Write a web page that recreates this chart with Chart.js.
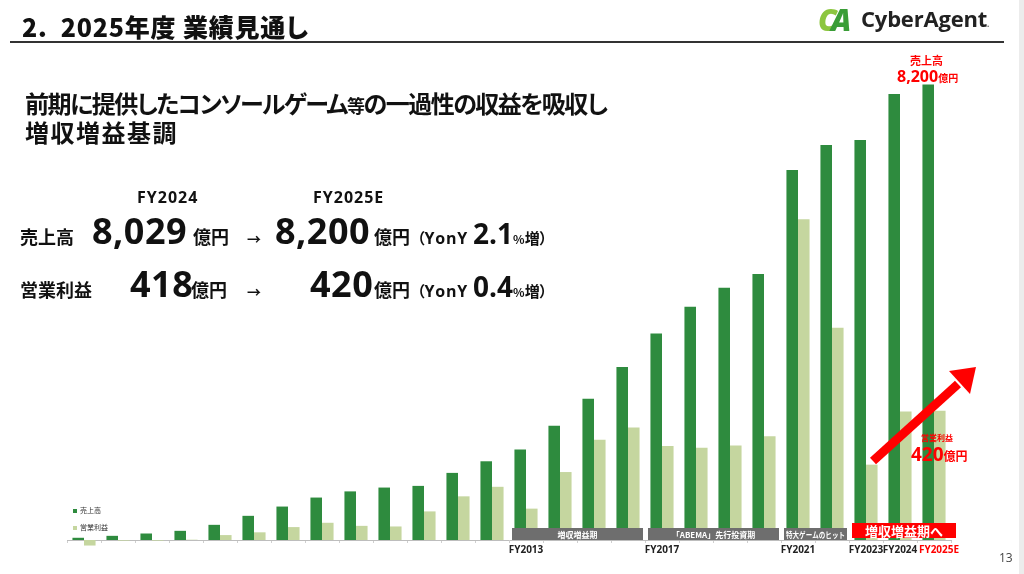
<!DOCTYPE html>
<html lang="ja">
<head>
<meta charset="utf-8">
<script src="https://cdn.jsdelivr.net/npm/chart.js@4.4.1/dist/chart.umd.min.js"></script>
<style>
html, body { margin: 0; padding: 0; background: #fff; }
#slide { position: relative; width: 1024px; height: 574px; overflow: hidden; background: #fff;
  font-family: "Noto Sans CJK JP", "Noto Sans", sans-serif; color: #111; }
#chart { position: absolute; left: 0; top: 0; }
.abs { position: absolute; white-space: nowrap; }
.jp { font-family: "Noto Sans CJK JP", sans-serif; font-weight: 700; font-feature-settings: "palt"; }
.num { font-family: "Open Sans", sans-serif; font-weight: 700; }
.row { position: absolute; left: 20px; white-space: nowrap; }
.row > span { display: inline-block; }
.red { color: #ff0000; }
</style>
</head>
<body>
<div id="slide">
  <canvas id="chart" width="1024" height="574"></canvas>

  <!-- header -->
  <div class="abs jp" style="left:22px;top:8px;font-size:25px;font-weight:900;letter-spacing:0.8px;">2.&nbsp;&nbsp;2025年度 業績見通し</div>
  <div class="abs" style="left:10px;top:41px;width:994px;height:2px;background:#333;"></div>
  <div class="abs" style="left:818px;top:-1px;font-family:'Open Sans';font-weight:800;font-style:italic;font-size:30px;letter-spacing:-6px;">
    <span style="color:#8cc63f;">C</span><span style="color:#3a9d37;">A</span>
  </div>
  <div class="abs" style="left:861px;top:3px;font-family:'Open Sans';font-weight:700;font-size:22px;color:#222;letter-spacing:-0.2px;">CyberAgent<span style="font-size:8px;color:#555;">.</span></div>
  <div class="abs" style="left:1019px;top:0;width:5px;height:574px;background:#ececec;"></div>

  <!-- headline -->
  <div class="abs jp" style="left:25px;top:89px;font-size:24px;line-height:28px;letter-spacing:-1.5px;">前期に提供したコンソールゲーム<span style="font-size:18px;">等</span>の一過性の収益を吸収し</div>
  <div class="abs jp" style="left:25px;top:118px;font-size:24px;line-height:28px;letter-spacing:1.5px;">増収増益基調</div>

  <!-- figures -->
  <div class="abs num" style="left:137px;top:186px;font-size:16px;letter-spacing:1px;">FY2024</div>
  <div class="abs num" style="left:313px;top:186px;font-size:16px;letter-spacing:1px;">FY2025E</div>

  <div class="row" style="top:206px;">
    <span class="jp" style="width:72px;font-size:18px;">売上高</span><span class="num" style="width:101px;font-size:36px;letter-spacing:0.5px;">8,029</span><span class="jp" style="width:54px;font-size:18px;">億円</span><span class="jp" style="width:28px;font-size:14px;">→</span><span class="num" style="width:99px;font-size:36px;letter-spacing:0.5px;">8,200</span><span class="jp" style="width:43px;font-size:18px;">億円</span><span class="jp" style="font-size:15px;">（<span class="num" style="font-size:16px;letter-spacing:0.8px;">YonY </span><span class="num" style="font-size:28px;">2.1</span><span style="font-size:12px;">%</span>増）</span>
  </div>
  <div class="row" style="top:259px;">
    <span class="jp" style="width:110px;font-size:18px;">営業利益</span><span class="num" style="width:61px;font-size:36px;letter-spacing:0.5px;">418</span><span class="jp" style="width:56px;font-size:18px;">億円</span><span class="jp" style="width:63px;font-size:14px;">→</span><span class="num" style="width:64px;font-size:36px;letter-spacing:0.5px;">420</span><span class="jp" style="width:43px;font-size:18px;">億円</span><span class="jp" style="font-size:15px;">（<span class="num" style="font-size:16px;letter-spacing:0.8px;">YonY </span><span class="num" style="font-size:28px;">0.4</span><span style="font-size:12px;">%</span>増）</span>
  </div>

  <!-- legend -->
  <div class="abs jp" style="left:73px;top:505px;font-size:7px;font-weight:400;color:#333;"><span style="display:inline-block;width:4px;height:4px;background:#2e8b3e;margin-right:3px;"></span>売上高</div>
  <div class="abs jp" style="left:73px;top:522px;font-size:7px;font-weight:400;color:#333;"><span style="display:inline-block;width:4px;height:4px;background:#c5d69f;margin-right:3px;"></span>営業利益</div>

  <!-- red annotations -->
  <div class="abs jp red" style="left:910px;top:52px;font-size:11px;">売上高</div>
  <div class="abs red" style="left:897px;top:63px;"><span class="num" style="font-size:16px;">8,200</span><span class="jp" style="font-size:10px;">億円</span></div>
  <div class="abs jp red" style="left:921px;top:432px;font-size:8px;">営業利益</div>
  <div class="abs red" style="left:911px;top:441px;"><span class="num" style="font-size:19px;">420</span><span class="jp" style="font-size:12px;">億円</span></div>

  <svg class="abs" style="left:0;top:0;" width="1024" height="574">
    <line x1="873" y1="461" x2="958" y2="384" stroke="#ff0000" stroke-width="9"/>
    <polygon points="976,367 970,394 949,371" fill="#ff0000"/>
  </svg>

  <div class="abs" style="left:999px;top:549px;font-family:'Open Sans';font-size:12px;color:#444;">13</div>
</div>

<script>
// fiscal years (Sept year-end), 億円
const years = ['FY2000', 'FY2001', 'FY2002', 'FY2003', 'FY2004', 'FY2005', 'FY2006', 'FY2007',
  'FY2008', 'FY2009', 'FY2010', 'FY2011', 'FY2012', 'FY2013', 'FY2014', 'FY2015', 'FY2016',
  'FY2017', 'FY2018', 'FY2019', 'FY2020', 'FY2021', 'FY2022', 'FY2023', 'FY2024', 'FY2025E'];
const sales = [40, 75, 117, 165, 273, 435, 602, 764, 875, 944, 974, 1208, 1417, 1627, 2058,
  2543, 3113, 3717, 4197, 4539, 4790, 6660, 7109, 7199, 8029, 8200];
const opIncome = [-18, -2, -2, 1, 16, 25, 42, 56, 46, 44, 93, 142, 173, 102, 221,
  326, 366, 306, 300, 307, 337, 1043, 690, 245, 418, 420];
const tickYears = ['FY2013', 'FY2017', 'FY2021', 'FY2023', 'FY2024', 'FY2025E'];
const phases = [
  { from: 'FY2013', to: 'FY2016', label: '増収増益期' },
  { from: 'FY2017', to: 'FY2020', label: '「ABEMA」先行投資期' },
  { from: 'FY2021', to: 'FY2022', label: '特大ゲームのヒット' },
  { from: 'FY2023', to: 'FY2025E', label: '増収増益期へ' }
];

// grey / red phase boxes sitting on the baseline
const phaseBands = {
  id: 'phaseBands',
  afterDatasetsDraw(chart) {
    const ctx = chart.ctx;
    const x = chart.scales.x;
    const bottom = chart.chartArea.bottom;
    ctx.save();
    phases.forEach((p, i) => {
      const last = i === phases.length - 1;
      const x1 = x.getPixelForValue(years.indexOf(p.from)) - 14;
      const x2 = x.getPixelForValue(years.indexOf(p.to)) + (last ? 22 : 15);
      const top = last ? bottom - 17 : bottom - 12;
      const h = last ? 15 : 12;
      ctx.fillStyle = last ? '#ff0000' : '#6e6e6e';
      ctx.fillRect(x1, top, x2 - x1, h);
      ctx.fillStyle = '#fff';
      ctx.textAlign = 'center';
      ctx.textBaseline = 'middle';
      ctx.font = last ? '700 13px "Noto Sans CJK JP"' : '700 8px "Noto Sans CJK JP"';
      ctx.fillText(p.label, (x1 + x2) / 2, top + h / 2 + 0.5, x2 - x1 - 4);
    });
    ctx.restore();
  }
};

new Chart(document.getElementById('chart').getContext('2d'), {
  type: 'bar',
  data: {
    labels: years,
    datasets: [
      {
        label: '売上高',
        data: sales,
        backgroundColor: '#2e8b3e',
        yAxisID: 'y',
        categoryPercentage: 0.68,
        barPercentage: 1,
        clip: false
      },
      {
        label: '営業利益',
        data: opIncome,
        backgroundColor: '#c5d69f',
        yAxisID: 'y1',
        categoryPercentage: 0.68,
        barPercentage: 1,
        clip: false
      }
    ]
  },
  options: {
    responsive: false,
    animation: false,
    devicePixelRatio: 1,
    layout: { padding: { left: 67, right: 73, top: 40, bottom: 17 } },
    plugins: {
      legend: { display: false },
      tooltip: { enabled: false }
    },
    scales: {
      x: {
        offset: true,
        grid: { display: true, drawOnChartArea: false, tickLength: 3, color: '#cfcfcf' },
        border: { display: true, color: '#bdbdbd' },
        ticks: {
          autoSkip: false,
          maxRotation: 0,
          padding: 1,
          font: { family: 'Open Sans', weight: '700', size: 10 },
          color: (c) => years[c.index] === 'FY2025E' ? '#ff0000' : '#222',
          // the estimate label sits a little right of its bars
          callback: (v, i) => tickYears.includes(years[i])
            ? (years[i] === 'FY2025E' ? '\u2003' + years[i] : years[i]) : ''
        }
      },
      y: { display: false, min: 0, max: 9000 },
      y1: { display: false, min: 0, max: 1626 }
    }
  },
  plugins: [phaseBands]
});
</script>
</body>
</html>
